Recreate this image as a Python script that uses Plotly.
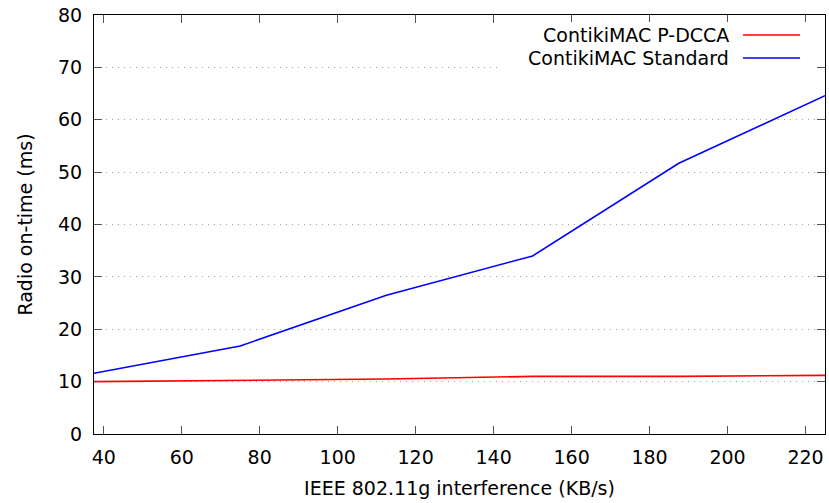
import plotly.graph_objects as go

# Interference levels (KB/s)
interference = [37.5, 75, 112.5, 150, 187.5, 225]
# Radio on-time (ms)
pdcca = [10.0, 10.3, 10.5, 11.0, 11.0, 11.2]
standard = [11.6, 16.8, 26.5, 34.0, 51.7, 64.6]

series_names = ["ContikiMAC P-DCCA", "ContikiMAC Standard"]
series_colors = ["#ff0000", "#0000ff"]

W, H = 829, 503
ML, MR, MT, MB = 94, 4, 15, 69
FONT = "DejaVu Sans"
FS = 19

fig = go.Figure()
for name, ys, col in zip(series_names, [pdcca, standard], series_colors):
    fig.add_trace(go.Scatter(x=interference, y=ys, mode="lines", name=name,
                             line=dict(color=col, width=1.6), showlegend=False))

axis_common = dict(
    showline=True, linecolor="black", linewidth=1, mirror="ticks",
    ticks="inside", ticklen=8, tickcolor="#555555", tickwidth=1,
    zeroline=False,
    tickfont=dict(family=FONT, size=FS, color="black"),
)

fig.update_xaxes(range=[37.5, 225], tickvals=list(range(40, 221, 20)),
                 showgrid=False, ticklabelstandoff=6,
                 title=dict(text="IEEE 802.11g interference (KB/s)",
                            font=dict(family=FONT, size=FS, color="black"),
                            standoff=14),
                 **axis_common)
fig.update_yaxes(range=[0, 80], tickvals=list(range(0, 81, 10)),
                 showgrid=True, gridcolor="#a0a0a0", griddash="1px,5px", gridwidth=1,
                 ticklabelstandoff=7,
                 title=dict(text="Radio on-time (ms)",
                            font=dict(family=FONT, size=FS, color="black"),
                            standoff=20),
                 **axis_common)

pw, ph = W - ML - MR, H - MT - MB
def px(x):
    return (x - ML) / pw
def py(y):
    return 1 - (y - MT) / ph

# Legend: opaque box, right-aligned labels followed by line samples
shapes = [dict(type="rect", xref="paper", yref="paper",
               x0=px(498), x1=px(815), y0=py(72), y1=py(22),
               fillcolor="white", line=dict(width=0), layer="above")]
annotations = []
for i, (name, col) in enumerate(zip(series_names, series_colors)):
    yc = 35 + i * 23
    shapes.append(dict(type="line", xref="paper", yref="paper",
                       x0=px(743), x1=px(800), y0=py(yc), y1=py(yc),
                       line=dict(color=col, width=1.6), layer="above"))
    annotations.append(dict(text=name, xref="paper", yref="paper",
                            x=px(731), y=py(yc), xanchor="right", yanchor="middle",
                            showarrow=False,
                            font=dict(family=FONT, size=FS, color="black")))

fig.update_layout(
    width=W, height=H,
    margin=dict(l=ML, r=MR, t=MT, b=MB),
    paper_bgcolor="white", plot_bgcolor="white",
    shapes=shapes, annotations=annotations,
    font=dict(family=FONT, size=FS, color="black"),
)

fig.write_html("out.html")
